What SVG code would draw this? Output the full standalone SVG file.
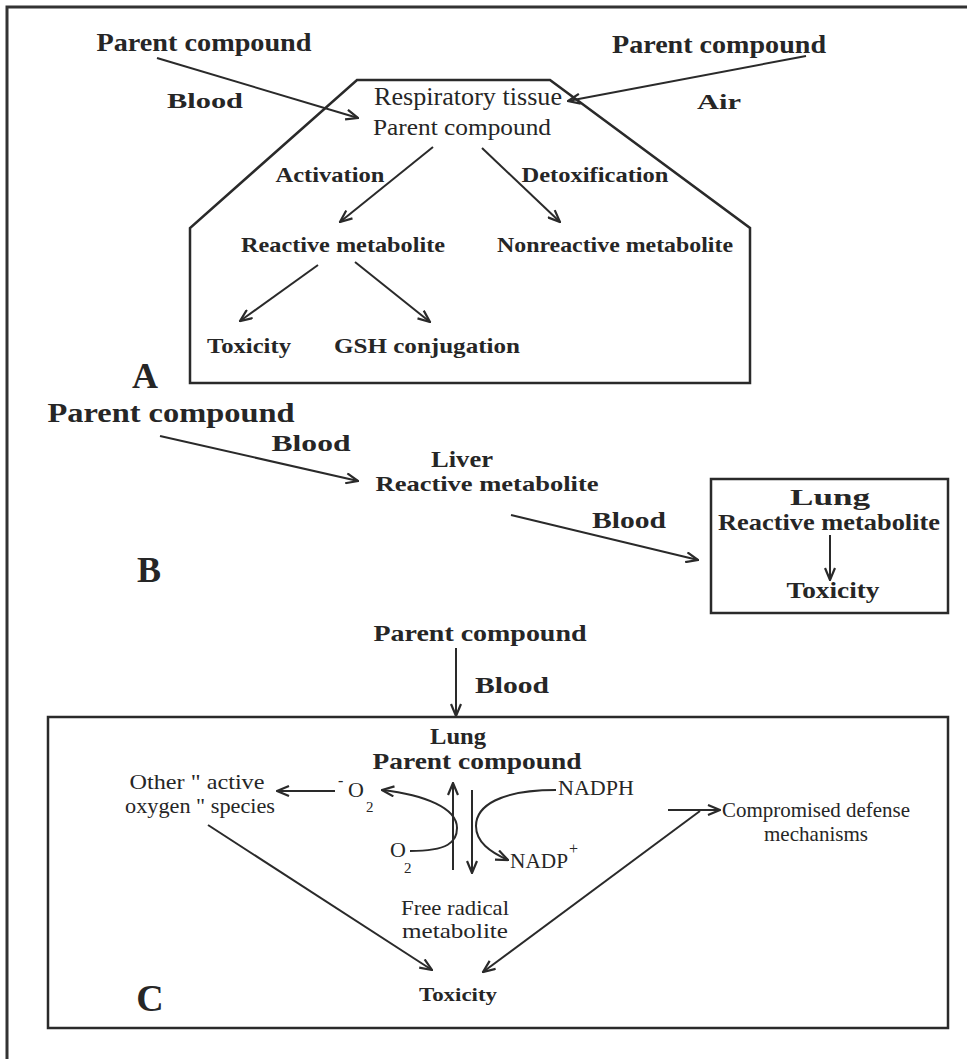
<svg xmlns="http://www.w3.org/2000/svg" width="967" height="1059" viewBox="0 0 967 1059">
<defs>
<style>
.b{font-family:"Liberation Serif","Times New Roman",serif;font-weight:bold;fill:#262626}
.r{font-family:"Liberation Serif","Times New Roman",serif;font-weight:normal;fill:#262626}
.box{fill:none;stroke:#2a2a2a;stroke-width:2.5}
.ln{fill:none;stroke:#2a2a2a;stroke-width:2;marker-end:url(#ah)}
</style>
<marker id="ah" viewBox="0 0 14 12" refX="13" refY="6" markerWidth="14" markerHeight="12" markerUnits="userSpaceOnUse" orient="auto">
<path d="M1,1 L13,6 L1,11" fill="none" stroke="#2a2a2a" stroke-width="2.2"/>
</marker>
</defs>
<rect width="967" height="1059" fill="#ffffff"/>
<path d="M7,1059 V7 H967" fill="none" stroke="#333" stroke-width="3"/>

<!-- Section A -->
<g id="A-parent-blood"><text class="b" x="204" y="51" font-size="25" text-anchor="middle" textLength="215" lengthAdjust="spacingAndGlyphs">Parent compound</text></g>
<g id="A-parent-air"><text class="b" x="719" y="53" font-size="25" text-anchor="middle" textLength="214" lengthAdjust="spacingAndGlyphs">Parent compound</text></g>
<g id="A-blood"><text class="b" x="205" y="108" font-size="22" text-anchor="middle" textLength="76" lengthAdjust="spacingAndGlyphs">Blood</text></g>
<g id="A-air"><text class="b" x="719" y="109" font-size="22" text-anchor="middle" textLength="44" lengthAdjust="spacingAndGlyphs">Air</text></g>
<g id="A-tissue">
<path class="box" d="M357,80 H550 L750,228 V383 H190 V228 Z"/>
<text class="r" x="468" y="105" font-size="26" text-anchor="middle" textLength="188" lengthAdjust="spacingAndGlyphs">Respiratory tissue</text>
<text class="r" x="462" y="135" font-size="24" text-anchor="middle" textLength="178" lengthAdjust="spacingAndGlyphs">Parent compound</text>
</g>
<g id="A-activation"><text class="b" x="330" y="182" font-size="21" text-anchor="middle" textLength="109" lengthAdjust="spacingAndGlyphs">Activation</text></g>
<g id="A-detox"><text class="b" x="595" y="182" font-size="21" text-anchor="middle" textLength="147" lengthAdjust="spacingAndGlyphs">Detoxification</text></g>
<g id="A-reactive"><text class="b" x="343" y="252" font-size="22" text-anchor="middle" textLength="204" lengthAdjust="spacingAndGlyphs">Reactive metabolite</text></g>
<g id="A-nonreactive"><text class="b" x="615" y="252" font-size="22" text-anchor="middle" textLength="236" lengthAdjust="spacingAndGlyphs">Nonreactive metabolite</text></g>
<g id="A-toxicity"><text class="b" x="249" y="353" font-size="22" text-anchor="middle" textLength="84" lengthAdjust="spacingAndGlyphs">Toxicity</text></g>
<g id="A-gsh"><text class="b" x="427" y="353" font-size="22" text-anchor="middle" textLength="186" lengthAdjust="spacingAndGlyphs">GSH conjugation</text></g>
<g id="A-label"><text class="b" x="145" y="388" font-size="36" text-anchor="middle">A</text></g>

<!-- Section B -->
<g id="B-parent"><text class="b" x="171" y="422" font-size="27" text-anchor="middle" textLength="247" lengthAdjust="spacingAndGlyphs">Parent compound</text></g>
<g id="B-blood1"><text class="b" x="311" y="451" font-size="23" text-anchor="middle" textLength="79" lengthAdjust="spacingAndGlyphs">Blood</text></g>
<g id="B-liver">
<text class="b" x="462" y="467" font-size="23" text-anchor="middle" textLength="62" lengthAdjust="spacingAndGlyphs">Liver</text>
<text class="b" x="487" y="491" font-size="22" text-anchor="middle" textLength="223" lengthAdjust="spacingAndGlyphs">Reactive metabolite</text>
</g>
<g id="B-blood2"><text class="b" x="629" y="528" font-size="23" text-anchor="middle" textLength="74" lengthAdjust="spacingAndGlyphs">Blood</text></g>
<g id="B-label"><text class="b" x="149" y="582" font-size="36" text-anchor="middle">B</text></g>
<g id="B-lung">
<rect class="box" x="711" y="479" width="237" height="134"/>
<text class="b" x="830" y="505" font-size="24" text-anchor="middle" textLength="80" lengthAdjust="spacingAndGlyphs">Lung</text>
<text class="b" x="829" y="530" font-size="23" text-anchor="middle" textLength="222" lengthAdjust="spacingAndGlyphs">Reactive metabolite</text>
<text class="b" x="833" y="598" font-size="23" text-anchor="middle" textLength="93" lengthAdjust="spacingAndGlyphs">Toxicity</text>
</g>

<!-- Section C -->
<g id="C-parent"><text class="b" x="480" y="641" font-size="24" text-anchor="middle" textLength="213" lengthAdjust="spacingAndGlyphs">Parent compound</text></g>
<g id="C-blood"><text class="b" x="512" y="693" font-size="23" text-anchor="middle" textLength="74" lengthAdjust="spacingAndGlyphs">Blood</text></g>
<g id="C-lung">
<rect class="box" x="48" y="717" width="900" height="311"/>
<text class="b" x="458" y="744" font-size="23" text-anchor="middle" textLength="56" lengthAdjust="spacingAndGlyphs">Lung</text>
<text class="b" x="477" y="769" font-size="23" text-anchor="middle" textLength="209" lengthAdjust="spacingAndGlyphs">Parent compound</text>
</g>
<g id="C-aos">
<text class="r" x="197" y="789" font-size="21" text-anchor="middle" textLength="135" lengthAdjust="spacingAndGlyphs">Other " active</text>
<text class="r" x="200" y="813" font-size="21" text-anchor="middle" textLength="150" lengthAdjust="spacingAndGlyphs">oxygen " species</text>
</g>
<g id="C-superoxide">
<text class="r" x="338" y="786" font-size="16">-</text>
<text class="r" x="348" y="797" font-size="22">O</text>
<text class="r" x="366" y="812" font-size="15">2</text>
</g>
<g id="C-o2">
<text class="r" x="390" y="857" font-size="22">O</text>
<text class="r" x="404" y="873" font-size="15">2</text>
</g>
<g id="C-nadph"><text class="r" x="558" y="795" font-size="22" textLength="76" lengthAdjust="spacingAndGlyphs">NADPH</text></g>
<g id="C-nadp">
<text class="r" x="510" y="868" font-size="22" textLength="58" lengthAdjust="spacingAndGlyphs">NADP</text>
<text class="r" x="569" y="854" font-size="16">+</text>
</g>
<g id="C-freeradical">
<text class="r" x="455" y="915" font-size="21" text-anchor="middle" textLength="108" lengthAdjust="spacingAndGlyphs">Free radical</text>
<text class="r" x="455" y="938" font-size="21" text-anchor="middle" textLength="106" lengthAdjust="spacingAndGlyphs">metabolite</text>
</g>
<g id="C-defense">
<text class="r" x="816" y="817" font-size="22" text-anchor="middle" textLength="188" lengthAdjust="spacingAndGlyphs">Compromised defense</text>
<text class="r" x="816" y="841" font-size="22" text-anchor="middle" textLength="104" lengthAdjust="spacingAndGlyphs">mechanisms</text>
</g>
<g id="C-toxicity"><text class="b" x="458" y="1001" font-size="19" text-anchor="middle" textLength="78" lengthAdjust="spacingAndGlyphs">Toxicity</text></g>
<g id="C-label"><text class="b" x="150" y="1011" font-size="38" text-anchor="middle">C</text></g>

<!-- Connectors -->
<g id="connectors">
<line class="ln" x1="157" y1="58" x2="358" y2="118"/>
<line class="ln" x1="806" y1="56" x2="568" y2="101"/>
<line class="ln" x1="433" y1="147" x2="340" y2="222"/>
<line class="ln" x1="482" y1="148" x2="560" y2="222"/>
<line class="ln" x1="318" y1="265" x2="240" y2="321"/>
<line class="ln" x1="355" y1="262" x2="430" y2="322"/>
<line class="ln" x1="160" y1="436" x2="358" y2="481"/>
<line class="ln" x1="511" y1="515" x2="698" y2="560"/>
<line class="ln" x1="830" y1="535" x2="830" y2="580"/>
<line class="ln" x1="456" y1="648" x2="456" y2="716"/>
<line class="ln" x1="335" y1="791" x2="277" y2="791"/>
<path class="ln" d="M410,851 C448,851 457,842 457,828 C457,808 425,795 382,790"/>
<line class="ln" x1="453" y1="870" x2="453" y2="783"/>
<line class="ln" x1="472" y1="790" x2="472" y2="873"/>
<path class="ln" d="M556,790 C500,790 476,806 476,826 C476,842 490,852 508,860"/>
<line class="ln" x1="668" y1="810" x2="720" y2="810"/>
<line class="ln" x1="700" y1="811" x2="483" y2="972"/>
<line class="ln" x1="208" y1="825" x2="432" y2="970"/>
</g>
</svg>
